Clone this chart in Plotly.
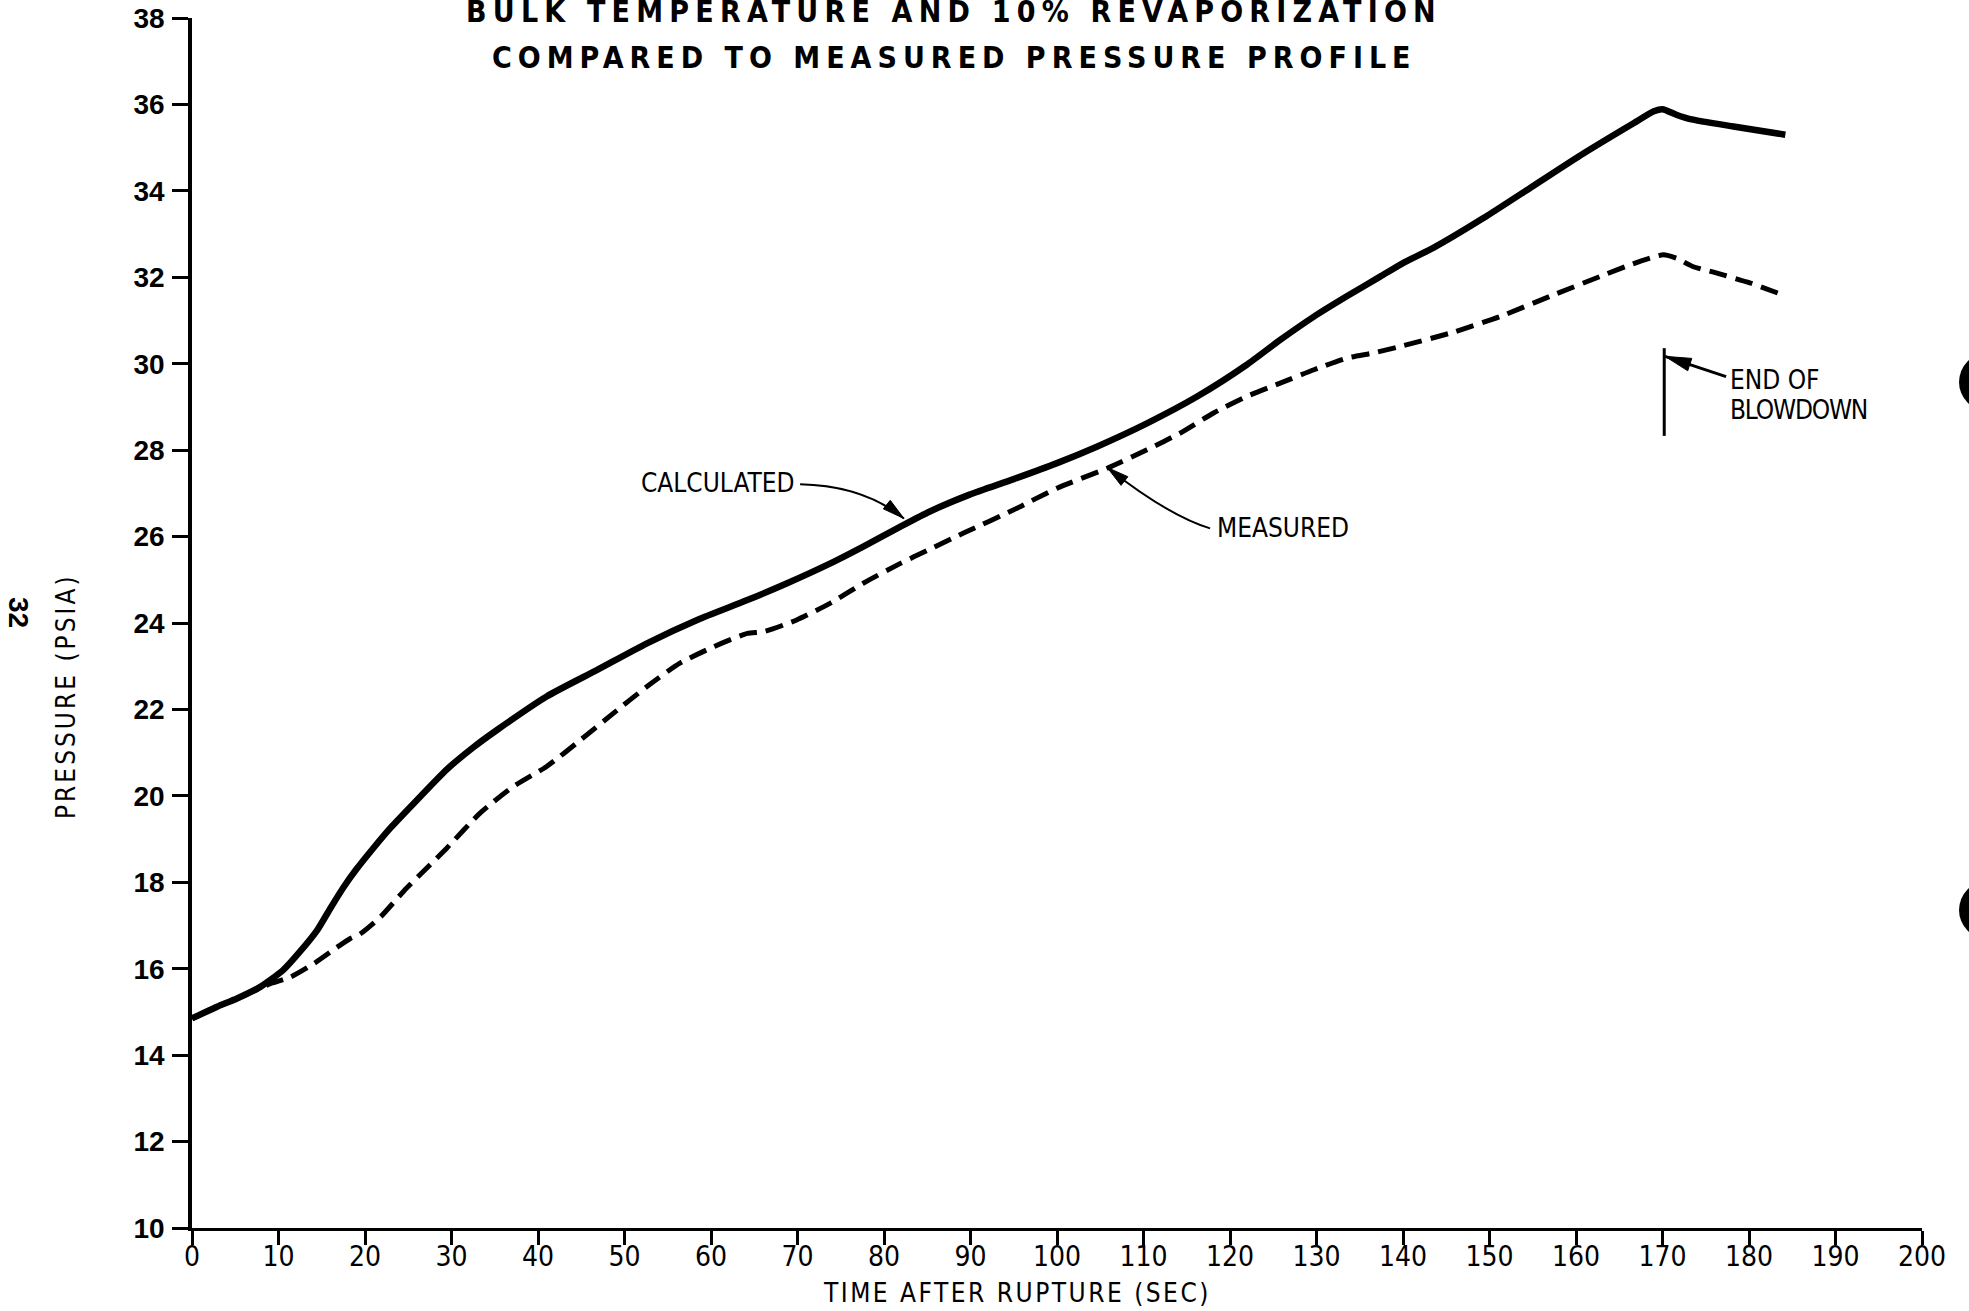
import plotly.graph_objects as go

# ---- data: pressure history after the rupture ----
calc_time = [0, 2.9, 5.2, 7.9, 10.5, 12.5, 14.5, 16.0, 17.5, 19.0, 21.0, 23.0, 25.6, 29.5, 32.5, 35.3,
             41.0, 46.8, 52.6, 58.4, 64.2, 68.8, 73.8, 77.6, 81.9, 85.3, 89.9, 95.0, 100.0, 104.6,
             110.4, 116.2, 121.9, 125.8, 129.7, 133.5, 137.4, 140.0, 143.5, 149.3, 155.1, 160.9,
             166.7, 169.0, 170.0, 171.6, 173.2, 178.2, 184.2]
calc_psia = [14.85, 15.12, 15.31, 15.58, 15.96, 16.4, 16.9, 17.4, 17.88, 18.3, 18.8, 19.27, 19.82, 20.62,
             21.12, 21.53, 22.3, 22.91, 23.53, 24.07, 24.53, 24.92, 25.38, 25.77, 26.23, 26.58, 26.97,
             27.33, 27.7, 28.08, 28.62, 29.24, 29.97, 30.55, 31.09, 31.56, 32.02, 32.33, 32.68, 33.37,
             34.12, 34.87, 35.57, 35.84, 35.89, 35.76, 35.66, 35.49, 35.3]

meas_time = [0, 2.9, 5.2, 7.9, 9.0, 11.4, 14.1, 16.8, 18.3, 19.4, 21.8, 24.5, 27.5, 29.5, 33.3, 37.1,
             41.0, 44.9, 48.7, 52.6, 56.4, 60.3, 64.2, 66.1, 69.9, 73.8, 77.6, 81.9, 85.0, 89.2, 95.0,
             100.0, 105.8, 110.4, 114.2, 118.1, 121.9, 125.8, 129.7, 133.5, 136.6, 139.7, 145.5,
             151.2, 157.0, 162.8, 167.4, 170.1, 171.6, 173.5, 176.2, 180.1, 184.2]
meas_psia = [14.85, 15.12, 15.31, 15.55, 15.65, 15.81, 16.12, 16.5, 16.7, 16.8, 17.2, 17.8, 18.4, 18.8,
             19.6, 20.21, 20.68, 21.29, 21.91, 22.53, 23.07, 23.45, 23.76, 23.8, 24.07, 24.46, 24.92,
             25.38, 25.68, 26.08, 26.62, 27.12, 27.58, 28.01, 28.39, 28.86, 29.24, 29.55, 29.86, 30.13,
             30.25, 30.4, 30.71, 31.09, 31.56, 32.02, 32.37, 32.52, 32.44, 32.25, 32.1, 31.87, 31.57]

blowdown_end_time = 170.2

x_ticks = list(range(0, 201, 10))
y_ticks = list(range(10, 39, 2))

title_lines = ["BULK TEMPERATURE AND 10% REVAPORIZATION",
               "COMPARED TO MEASURED PRESSURE PROFILE"]
x_title = "TIME AFTER RUPTURE (SEC)"
y_title = "PRESSURE (PSIA)"
page_number = "32"

# ---- layout geometry ----
W, H = 1969, 1311
MARGIN = dict(l=192, r=47, t=18, b=83)
X_RANGE = [0, 200]
Y_RANGE = [10, 38]
PLOT_W = W - MARGIN["l"] - MARGIN["r"]
PLOT_H = H - MARGIN["t"] - MARGIN["b"]
PX_X = PLOT_W / (X_RANGE[1] - X_RANGE[0])
PX_Y = PLOT_H / (Y_RANGE[1] - Y_RANGE[0])

NARROW = "DejaVu Sans Condensed, Liberation Sans Narrow, sans-serif"
REGULAR = "Liberation Sans, Arial, sans-serif"
INK = "#000000"


def paper_x(px):
    return (px - MARGIN["l"]) / PLOT_W


def paper_y(py):
    return (H - MARGIN["b"] - py) / PLOT_H


def spaced(text, px):
    return f'<span style="letter-spacing:{px}px">{text}</span>'


def arrow_head(tip, back, length=22, width=11):
    """Filled triangular head at `tip`, pointing away from `back` (data coords)."""
    dx = (tip[0] - back[0]) * PX_X
    dy = (tip[1] - back[1]) * PX_Y
    n = (dx * dx + dy * dy) ** 0.5
    ux, uy = dx / n, dy / n
    bx, by = -ux * length, -uy * length
    nx, ny = -uy * width / 2, ux * width / 2
    pts = [(0, 0), (bx + nx, by + ny), (bx - nx, by - ny)]
    xy = [(tip[0] + a / PX_X, tip[1] + b / PX_Y) for a, b in pts]
    return "M {:.3f} {:.3f} L {:.3f} {:.3f} L {:.3f} {:.3f} Z".format(*[v for p in xy for v in p])


fig = go.Figure()

fig.add_trace(go.Scatter(
    x=meas_time, y=meas_psia, mode="lines", name="MEASURED",
    line=dict(color=INK, width=5, dash="18px,9px", shape="spline", smoothing=0.6),
    hoverinfo="skip"))
fig.add_trace(go.Scatter(
    x=calc_time, y=calc_psia, mode="lines", name="CALCULATED",
    line=dict(color=INK, width=6.5, shape="spline", smoothing=0.6),
    hoverinfo="skip"))

shapes = []
# leader for CALCULATED
c0, c1, c2 = (70.3, 27.21), (77.6, 27.18), (82.3, 26.42)
shapes.append(dict(type="path", xref="x", yref="y",
                   path=f"M {c0[0]} {c0[1]} Q {c1[0]} {c1[1]} {c2[0]} {c2[1]}",
                   line=dict(color=INK, width=2)))
shapes.append(dict(type="path", xref="x", yref="y", path=arrow_head(c2, c1, 22, 11),
                   fillcolor=INK, line=dict(color=INK, width=1)))
# leader for MEASURED
m0, m1, m2 = (117.7, 26.19), (112.9, 26.48), (105.8, 27.6)
shapes.append(dict(type="path", xref="x", yref="y",
                   path=f"M {m0[0]} {m0[1]} Q {m1[0]} {m1[1]} {m2[0]} {m2[1]}",
                   line=dict(color=INK, width=2)))
shapes.append(dict(type="path", xref="x", yref="y", path=arrow_head(m2, m1, 22, 11),
                   fillcolor=INK, line=dict(color=INK, width=1)))
# end-of-blowdown marker
shapes.append(dict(type="line", xref="x", yref="y",
                   x0=blowdown_end_time, x1=blowdown_end_time, y0=28.33, y1=30.36,
                   line=dict(color=INK, width=3)))
e0, e2 = (177.35, 29.70), (blowdown_end_time + 0.1, 30.17)
shapes.append(dict(type="line", xref="x", yref="y", x0=e0[0], y0=e0[1], x1=e2[0], y1=e2[1],
                   line=dict(color=INK, width=3)))
shapes.append(dict(type="path", xref="x", yref="y", path=arrow_head(e2, e0, 26, 13),
                   fillcolor=INK, line=dict(color=INK, width=1)))
# binder holes along the right edge
for cy in (382, 910):
    shapes.append(dict(type="circle", xref="paper", yref="paper",
                       x0=paper_x(1959), x1=paper_x(2017),
                       y0=paper_y(cy + 29), y1=paper_y(cy - 29),
                       fillcolor=INK, line=dict(width=0)))

label_font = dict(family=NARROW, size=26, color=INK)
title_font = dict(family=NARROW, size=30, color=INK, weight="bold")
annotations = [
    dict(text=spaced(title_lines[0], 6.2), xref="paper", yref="paper",
         x=paper_x(954), y=paper_y(12), xanchor="center", yanchor="middle", showarrow=False,
         font=title_font),
    dict(text=spaced(title_lines[1], 6.0), xref="paper", yref="paper",
         x=paper_x(954), y=paper_y(57), xanchor="center", yanchor="middle", showarrow=False,
         font=title_font),
    dict(text=spaced(x_title, 2.5), xref="paper", yref="paper",
         x=paper_x(1017), y=paper_y(1293), xanchor="center", yanchor="middle", showarrow=False,
         font=dict(family=NARROW, size=26, color=INK)),
    dict(text=spaced(y_title, 3), xref="paper", yref="paper", textangle=-90,
         x=paper_x(66), y=paper_y(696), xanchor="center", yanchor="middle", showarrow=False,
         font=dict(family=NARROW, size=26, color=INK)),
    dict(text=page_number, xref="paper", yref="paper", textangle=90,
         x=paper_x(19), y=paper_y(612), xanchor="center", yanchor="middle", showarrow=False,
         font=dict(family=REGULAR, size=28, color=INK, weight="bold")),
    dict(text="CALCULATED", xref="x", yref="y", x=69.9, y=27.24,
         xanchor="right", yanchor="middle", showarrow=False, font=label_font),
    dict(text="MEASURED", xref="x", yref="y", x=118.3, y=26.19,
         xanchor="left", yanchor="middle", showarrow=False, font=label_font),
    dict(text="END OF", xref="x", yref="y", x=177.6, y=29.63,
         xanchor="left", yanchor="middle", showarrow=False, font=label_font),
    dict(text=spaced("BLOWDOWN", -1.2), xref="x", yref="y", x=177.6, y=28.93,
         xanchor="left", yanchor="middle", showarrow=False, font=label_font),
]

fig.update_layout(
    width=W, height=H, margin=MARGIN, autosize=False,
    paper_bgcolor="white", plot_bgcolor="white",
    showlegend=False, shapes=shapes, annotations=annotations,
)
fig.update_xaxes(
    range=X_RANGE, tickvals=x_ticks, ticktext=[str(v) for v in x_ticks], automargin=False,
    showgrid=False, zeroline=False, showline=True, linecolor=INK, linewidth=3,
    ticks="outside", ticklen=14, tickwidth=3, tickcolor=INK, ticklabelstandoff=-13,
    tickfont=dict(family=NARROW, size=28, color=INK),
)
fig.update_yaxes(
    range=Y_RANGE, tickvals=y_ticks, ticktext=[str(v) for v in y_ticks], automargin=False,
    showgrid=False, zeroline=False, showline=True, linecolor=INK, linewidth=3.5,
    ticks="outside", ticklen=16, tickwidth=3, tickcolor=INK, ticklabelstandoff=2,
    tickfont=dict(family=REGULAR, size=28, color=INK, weight="bold"),
)

fig.write_html("out.html")
